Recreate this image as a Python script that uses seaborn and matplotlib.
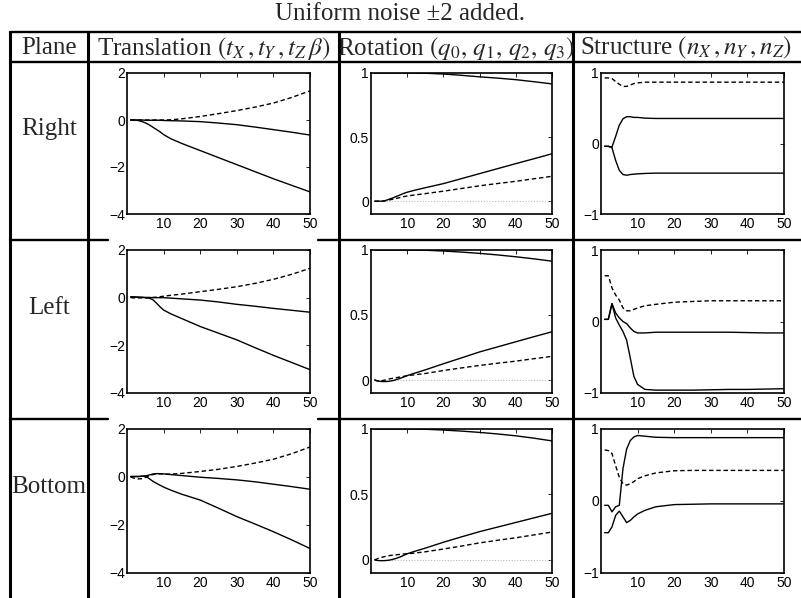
import numpy as np
import pandas as pd
import matplotlib
matplotlib.use("Agg")
import matplotlib.pyplot as plt
import seaborn as sns

# sample positions (iteration index) shared by all curves
X = [1, 2, 3, 4, 5, 6, 7, 8, 9, 10, 12, 15, 20, 25, 30, 35, 40, 45, 50]

# --- translation (t_X, t_Y, t_Z beta) ---
TR_RIGHT_DASH = [0, 0, 0, 0, 0, 0, 0, 0, 0, 0.0, 0.01, 0.05, 0.15, 0.27, 0.40, 0.55, 0.72, 0.96, 1.24]
TR_RIGHT_UP = [0, 0, 0, 0, -0.01, -0.01, -0.01, -0.01, -0.01, -0.02, -0.03, -0.04, -0.07, -0.13, -0.20, -0.30, -0.41, -0.52, -0.64]
TR_RIGHT_LOW = [0, 0, -0.02, -0.06, -0.12, -0.20, -0.30, -0.40, -0.50, -0.62, -0.80, -1.0, -1.30, -1.6, -1.9, -2.2, -2.5, -2.78, -3.06]

TR_LEFT_DASH = [0.0, -0.01, -0.01, -0.01, -0.01, 0, 0.01, 0.02, 0.04, 0.06, 0.10, 0.15, 0.25, 0.35, 0.46, 0.60, 0.77, 0.98, 1.23]
TR_LEFT_UP = [0.03, 0.03, 0.02, 0.02, 0.01, 0.01, 0.0, 0.0, 0.0, 0.0, -0.02, -0.05, -0.10, -0.18, -0.28, -0.36, -0.45, -0.53, -0.61]
TR_LEFT_LOW = [0.03, 0.03, 0.02, 0.01, 0.0, -0.02, -0.08, -0.22, -0.38, -0.52, -0.68, -0.88, -1.21, -1.49, -1.77, -2.10, -2.42, -2.72, -3.02]

TR_BOT_DASH = [0, -0.05, -0.08, -0.07, -0.02, 0.05, 0.10, 0.13, 0.13, 0.12, 0.12, 0.15, 0.23, 0.32, 0.44, 0.58, 0.74, 0.97, 1.25]
TR_BOT_UP = [0.02, 0.02, 0.02, 0.03, 0.04, 0.08, 0.12, 0.14, 0.14, 0.13, 0.10, 0.06, -0.01, -0.06, -0.12, -0.20, -0.30, -0.40, -0.51]
TR_BOT_LOW = [0.02, 0.02, 0.02, 0.03, 0.04, -0.06, -0.17, -0.26, -0.34, -0.42, -0.55, -0.72, -0.96, -1.30, -1.65, -1.96, -2.28, -2.62, -2.98]

# --- rotation (q0, q1, q2, q3) ---
ROT_RIGHT_Q0 = [1, 1, 1, 1, 1, 1, 1, 1, 1, 1, 1, 0.998, 0.992, 0.982, 0.970, 0.960, 0.948, 0.932, 0.915]
ROT_RIGHT_Q1 = [0, 0.0, 0.0, 0.005, 0.015, 0.025, 0.037, 0.048, 0.060, 0.070, 0.085, 0.105, 0.137, 0.176, 0.215, 0.254, 0.293, 0.331, 0.370]
ROT_RIGHT_Q2 = [0, 0, 0, 0.003, 0.010, 0.015, 0.022, 0.028, 0.035, 0.041, 0.048, 0.059, 0.078, 0.099, 0.120, 0.138, 0.155, 0.175, 0.194]
ROT_RIGHT_Q3 = [0] * 19

ROT_LEFT_Q0 = [1, 1, 1, 1, 1, 1, 1, 1, 1, 1, 1, 0.998, 0.992, 0.984, 0.974, 0.962, 0.948, 0.932, 0.914]
ROT_LEFT_Q1 = [0, -0.008, -0.012, -0.012, -0.010, -0.005, 0.003, 0.012, 0.023, 0.034, 0.052, 0.078, 0.125, 0.170, 0.216, 0.255, 0.294, 0.333, 0.371]
ROT_LEFT_Q2 = [0, -0.010, -0.005, 0.0, 0.008, 0.013, 0.018, 0.023, 0.028, 0.033, 0.040, 0.050, 0.073, 0.093, 0.112, 0.129, 0.145, 0.164, 0.182]
ROT_LEFT_Q3 = [0] * 19

ROT_BOT_Q0 = [1, 1, 1, 1, 1, 1, 1, 1, 1, 1, 1, 0.998, 0.992, 0.984, 0.974, 0.962, 0.948, 0.930, 0.909]
ROT_BOT_Q1 = [0, -0.005, -0.006, -0.005, -0.002, 0.004, 0.012, 0.022, 0.034, 0.047, 0.065, 0.090, 0.135, 0.176, 0.216, 0.251, 0.286, 0.321, 0.356]
ROT_BOT_Q2 = [0, 0.012, 0.020, 0.027, 0.033, 0.036, 0.039, 0.042, 0.045, 0.047, 0.052, 0.062, 0.083, 0.106, 0.130, 0.150, 0.169, 0.191, 0.213]
ROT_BOT_Q3 = [0] * 19

# --- structure (n_X, n_Y, n_Z) ---
ST_RIGHT_DASH = [0.93, 0.93, 0.92, 0.88, 0.84, 0.81, 0.81, 0.83, 0.85, 0.86, 0.87, 0.87, 0.87, 0.87, 0.87, 0.87, 0.87, 0.87, 0.87]
ST_RIGHT_A = [-0.04, -0.04, -0.05, 0.10, 0.26, 0.35, 0.38, 0.38, 0.37, 0.37, 0.36, 0.355, 0.355, 0.355, 0.355, 0.355, 0.355, 0.355, 0.355]
ST_RIGHT_B = [-0.04, -0.04, -0.06, -0.24, -0.38, -0.44, -0.45, -0.44, -0.435, -0.43, -0.425, -0.42, -0.42, -0.42, -0.42, -0.42, -0.42, -0.42, -0.42]

ST_LEFT_DASH = [0.64, 0.64, 0.47, 0.37, 0.30, 0.19, 0.15, 0.15, 0.17, 0.19, 0.22, 0.24, 0.27, 0.28, 0.29, 0.29, 0.29, 0.29, 0.29]
ST_LEFT_A = [0.03, 0.03, 0.25, 0.12, 0.05, 0.0, -0.03, -0.09, -0.14, -0.16, -0.16, -0.15, -0.15, -0.15, -0.15, -0.15, -0.155, -0.16, -0.16]
ST_LEFT_B = [0.03, 0.03, 0.25, 0.05, -0.05, -0.14, -0.26, -0.51, -0.77, -0.88, -0.95, -0.96, -0.96, -0.96, -0.955, -0.95, -0.95, -0.945, -0.94]

ST_BOT_DASH = [0.71, 0.70, 0.66, 0.49, 0.33, 0.24, 0.22, 0.24, 0.27, 0.31, 0.35, 0.39, 0.42, 0.425, 0.425, 0.425, 0.425, 0.425, 0.425]
ST_BOT_A = [-0.06, -0.06, -0.15, -0.08, -0.06, 0.45, 0.72, 0.84, 0.89, 0.91, 0.90, 0.885, 0.88, 0.88, 0.88, 0.88, 0.88, 0.88, 0.88]
ST_BOT_B = [-0.44, -0.44, -0.36, -0.20, -0.14, -0.22, -0.30, -0.27, -0.22, -0.18, -0.13, -0.08, -0.05, -0.045, -0.04, -0.04, -0.04, -0.04, -0.04]

ROW_NAMES = ["Right", "Left", "Bottom"]
HEADERS = ["Plane",
           r"Translation $(t_X\,, t_Y\,, t_Z\,\beta)$",
           r"Rotation $(q_0,\, q_1,\, q_2,\, q_3)$",
           r"Structure $(n_X\,, n_Y\,, n_Z)$"]
TITLE = "Uniform noise \u00b12 added."

# curves per panel: (values, style)
PANELS = [
    [[(TR_RIGHT_DASH, "dash"), (TR_RIGHT_UP, "solid"), (TR_RIGHT_LOW, "solid")],
     [(ROT_RIGHT_Q3, "dot"), (ROT_RIGHT_Q0, "solid"), (ROT_RIGHT_Q1, "solid"), (ROT_RIGHT_Q2, "dash")],
     [(ST_RIGHT_DASH, "dash"), (ST_RIGHT_A, "solid"), (ST_RIGHT_B, "solid")]],
    [[(TR_LEFT_DASH, "dash"), (TR_LEFT_UP, "solid"), (TR_LEFT_LOW, "solid")],
     [(ROT_LEFT_Q3, "dot"), (ROT_LEFT_Q0, "solid"), (ROT_LEFT_Q1, "solid"), (ROT_LEFT_Q2, "dash")],
     [(ST_LEFT_DASH, "dash"), (ST_LEFT_A, "solid"), (ST_LEFT_B, "solid")]],
    [[(TR_BOT_DASH, "dash"), (TR_BOT_UP, "solid"), (TR_BOT_LOW, "solid")],
     [(ROT_BOT_Q3, "dot"), (ROT_BOT_Q0, "solid"), (ROT_BOT_Q1, "solid"), (ROT_BOT_Q2, "dash")],
     [(ST_BOT_DASH, "dash"), (ST_BOT_A, "solid"), (ST_BOT_B, "solid")]],
]

YLIMS = [(-4, 2), (-0.1, 1), (-1, 1)]
YTICKS = [([-4, -2, 0, 2], ["\u22124", "\u22122", "0", "2"]),
          ([0, 0.5, 1], ["0", "0.5", "1"]),
          ([-1, 0, 1], ["\u22121", "0", "1"])]

sns.set_style("white")
plt.rcParams["font.family"] = ["Liberation Sans", "DejaVu Sans"]
plt.rcParams["mathtext.fontset"] = "stix"

W, H = 801, 598
fig = plt.figure(figsize=(W / 100, H / 100), dpi=100)

# background axes in pixel coordinates for the table
bg = fig.add_axes([0, 0, 1, 1], zorder=-1)
bg.set_xlim(0, W)
bg.set_ylim(H, 0)
bg.axis("off")

LW = 1.7
for y in (32, 62):
    bg.plot([10, W], [y, y], color="k", lw=LW)
for y in (240, 419):
    bg.plot([10, 108], [y, y], color="k", lw=LW)
    bg.plot([318, W], [y, y], color="k", lw=LW)
for x in (10, 88, 339, 573):
    bg.plot([x, x], [32, H], color="k", lw=LW + 0.5)

serif = ["Liberation Serif", "DejaVu Serif"]
FS = 18
bg.text(400, 14, TITLE, ha="center", va="center", fontsize=FS, family=serif)
head_x = [49, 214, 456, 686]
for hx, txt in zip(head_x, HEADERS):
    bg.text(hx, 48, txt, ha="center", va="center", fontsize=FS, family=serif)
for ry, name in zip([129, 308, 487], ROW_NAMES):
    bg.text(49, ry, name, ha="center", va="center", fontsize=FS, family=serif)

cols = [(127, 310), (371, 552), (601, 784)]
rows = [(73, 214), (250, 393), (429, 573)]

styles = {
    "solid": dict(color="k", linestyle="-", linewidth=1.0),
    "dash": dict(color="k", linestyle=(0, (3.2, 2.0)), linewidth=1.0),
    "dot": dict(color="#b8b8b8", linestyle=(0, (1, 1.5)), linewidth=0.8),
}

for r, (y0, y1) in enumerate(rows):
    for c, (x0, x1) in enumerate(cols):
        ax = fig.add_axes([x0 / W, 1 - y1 / H, (x1 - x0) / W, (y1 - y0) / H])
        for vals, st in PANELS[r][c]:
            df = pd.DataFrame({"x": X, "y": vals})
            sns.lineplot(data=df, x="x", y="y", ax=ax, sort=False, **styles[st])
        ax.set_xlim(0, 50)
        ax.set_ylim(*YLIMS[c])
        ax.set_xticks([10, 20, 30, 40, 50])
        ax.set_yticks(YTICKS[c][0])
        ax.set_yticklabels(YTICKS[c][1])
        ax.set_xlabel("")
        ax.set_ylabel("")
        ax.tick_params(direction="in", top=True, right=True, length=3,
                       width=0.6, labelsize=10, pad=1.5, colors="k")
        ax.tick_params(axis="x", pad=2.5)
        for sp in ax.spines.values():
            sp.set_visible(True)
            sp.set_color("k")
            sp.set_linewidth(1.2)

fig.savefig("out.png", dpi=100)
